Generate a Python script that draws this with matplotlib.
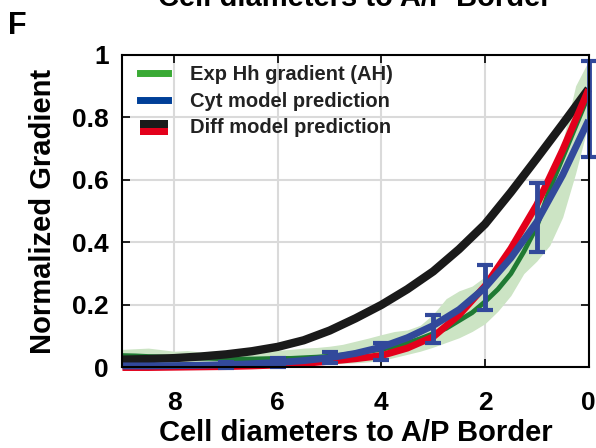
import matplotlib
matplotlib.use("Agg")
import matplotlib.pyplot as plt
import matplotlib.patches as mpatches
from matplotlib.legend_handler import HandlerBase

plt.rcParams['font.family'] = ['Liberation Sans', 'DejaVu Sans']
plt.rcParams['font.weight'] = 'bold'

exp_x = [9.0, 8.75, 8.5, 8.25, 8.0, 7.75, 7.5, 7.25, 7.0, 6.75, 6.5, 6.25, 6.0,
         5.75, 5.5, 5.25, 5.0, 4.75, 4.5, 4.25, 4.0, 3.75, 3.5, 3.25, 3.0,
         2.75, 2.5, 2.25, 2.0, 1.75, 1.5, 1.25, 1.0, 0.75, 0.5, 0.25, 0.0]
exp_mean = [0.038, 0.037, 0.035, 0.034, 0.032, 0.031, 0.030, 0.029, 0.028, 0.027,
            0.027, 0.028, 0.029, 0.029, 0.031, 0.033, 0.036, 0.040, 0.046, 0.052,
            0.058, 0.066, 0.078, 0.092, 0.108, 0.125, 0.150, 0.175, 0.210, 0.250,
            0.300, 0.370, 0.450, 0.570, 0.670, 0.770, 0.870]
exp_upper = [0.058, 0.060, 0.062, 0.057, 0.052, 0.054, 0.050, 0.052, 0.054, 0.052,
             0.050, 0.052, 0.055, 0.058, 0.062, 0.064, 0.068, 0.074, 0.084, 0.094,
             0.105, 0.115, 0.120, 0.135, 0.170, 0.220, 0.245, 0.260, 0.290, 0.320,
             0.385, 0.450, 0.520, 0.610, 0.720, 0.900, 0.980]
exp_lower = [0.014, 0.013, 0.012, 0.011, 0.010, 0.010, 0.009, 0.009, 0.009, 0.009,
             0.009, 0.009, 0.009, 0.009, 0.010, 0.010, 0.011, 0.013, 0.015, 0.018,
             0.022, 0.032, 0.042, 0.052, 0.065, 0.080, 0.095, 0.115, 0.140, 0.180,
             0.230, 0.300, 0.340, 0.390, 0.480, 0.620, 0.780]

# Model predictions
model_x = [9.0, 8.5, 8.0, 7.5, 7.0, 6.5, 6.0, 5.5, 5.0, 4.5, 4.0, 3.5, 3.0,
           2.5, 2.0, 1.5, 1.0, 0.5, 0.0]
diff_black = [0.025, 0.027, 0.030, 0.035, 0.042, 0.052, 0.066, 0.087, 0.118, 0.157,
              0.200, 0.250, 0.307, 0.378, 0.458, 0.560, 0.668, 0.778, 0.890]
diff_red = [0.000, 0.000, 0.001, 0.002, 0.003, 0.005, 0.008, 0.013, 0.020, 0.028,
            0.038, 0.062, 0.098, 0.168, 0.260, 0.380, 0.520, 0.695, 0.888]
cyt_blue = [0.005, 0.005, 0.006, 0.007, 0.009, 0.012, 0.016, 0.022, 0.031, 0.045,
            0.065, 0.095, 0.134, 0.185, 0.255, 0.350, 0.465, 0.615, 0.790]

# Error bars on the cyt model
err_x = [7, 6, 5, 4, 3, 2, 1, 0]
err_y = [0.009, 0.016, 0.031, 0.052, 0.123, 0.255, 0.480, 0.826]
err_size = [0.010, 0.013, 0.017, 0.027, 0.046, 0.071, 0.110, 0.152]

green_band = '#cce4c4'
green_line = '#1f7a33'
green_leg = '#3aaa35'
blue = '#32499b'
blue_leg = '#003f98'
red = '#e3001b'
black = '#1a1a1a'


class HandlerTwoTone(HandlerBase):
    def create_artists(self, legend, orig_handle, xdescent, ydescent,
                       width, height, fontsize, trans):
        h = 5.5
        mid = -ydescent + height / 2 - 1
        top = mpatches.Rectangle((-xdescent, mid), width, h,
                                 facecolor=black, edgecolor='none', transform=trans)
        bot = mpatches.Rectangle((-xdescent, mid - h), width, h,
                                 facecolor=red, edgecolor='none', transform=trans)
        return [top, bot]


fig = plt.figure(figsize=(5.96, 4.48), dpi=100)
ax = fig.add_axes([0.2055, 0.1797, 0.782, 0.6986])

ax.fill_between(exp_x, exp_lower, exp_upper, color=green_band, lw=0, zorder=1)
ax.plot(exp_x, exp_mean, color=green_line, lw=3.5, zorder=2)
ax.plot(model_x, diff_black, color=black, lw=6, zorder=3, solid_capstyle='butt',
        solid_joinstyle='round')
ax.plot(model_x, diff_red, color=red, lw=5, zorder=4, clip_on=False,
        solid_capstyle='butt', solid_joinstyle='round')
ax.plot(model_x, cyt_blue, color=blue, lw=5, zorder=5, clip_on=False,
        solid_capstyle='butt', solid_joinstyle='round')
ax.errorbar(err_x, err_y, yerr=err_size, fmt='none', ecolor=blue, elinewidth=3.5,
            capsize=6, capthick=3, zorder=6, clip_on=False)

ax.set_xlim(9, 0)
ax.set_ylim(0, 1)
ax.set_xticks([8, 6, 4, 2, 0])
ax.set_yticks([0, 0.2, 0.4, 0.6, 0.8, 1])
ax.set_yticklabels(['0', '0.2', '0.4', '0.6', '0.8', '1'])
ax.tick_params(direction='in', length=6, width=1.2, top=True, right=True,
               labelsize=19)
ax.tick_params(axis='x', pad=17)
ax.tick_params(axis='y', pad=10)
ax.grid(True, color='#dadada', lw=1.5)
ax.set_axisbelow(True)
for s in ax.spines.values():
    s.set_linewidth(1.5)
    s.set_zorder(7)

ax.set_xlabel('Cell diameters to A/P Border', fontsize=21, fontweight='bold', labelpad=3)
ax.set_ylabel('Normalized Gradient', fontsize=21, fontweight='bold', labelpad=11)

handles = [plt.Line2D([], [], color=green_leg, lw=5),
           plt.Line2D([], [], color=blue_leg, lw=5),
           mpatches.Rectangle((0, 0), 1, 1)]
labels = ['Exp Hh gradient (AH)', 'Cyt model prediction', 'Diff model prediction']
leg = ax.legend(handles, labels, loc='upper left', frameon=False,
                prop={'size': 14.5, 'weight': 'bold'}, handlelength=1.4,
                handletextpad=1.1, labelspacing=0.37, borderaxespad=0, borderpad=0,
                bbox_to_anchor=(0.037, 0.965),
                handler_map={mpatches.Rectangle: HandlerTwoTone()})
for t in leg.get_texts():
    t.set_color('#222222')

fig.text(0.013, 0.925, 'F', fontsize=22, fontweight='bold')
fig.text(0.595, 0.987, 'Cell diameters to A/P Border', fontsize=21,
         fontweight='bold', ha='center', va='baseline')

fig.savefig('out.png', dpi=100)
